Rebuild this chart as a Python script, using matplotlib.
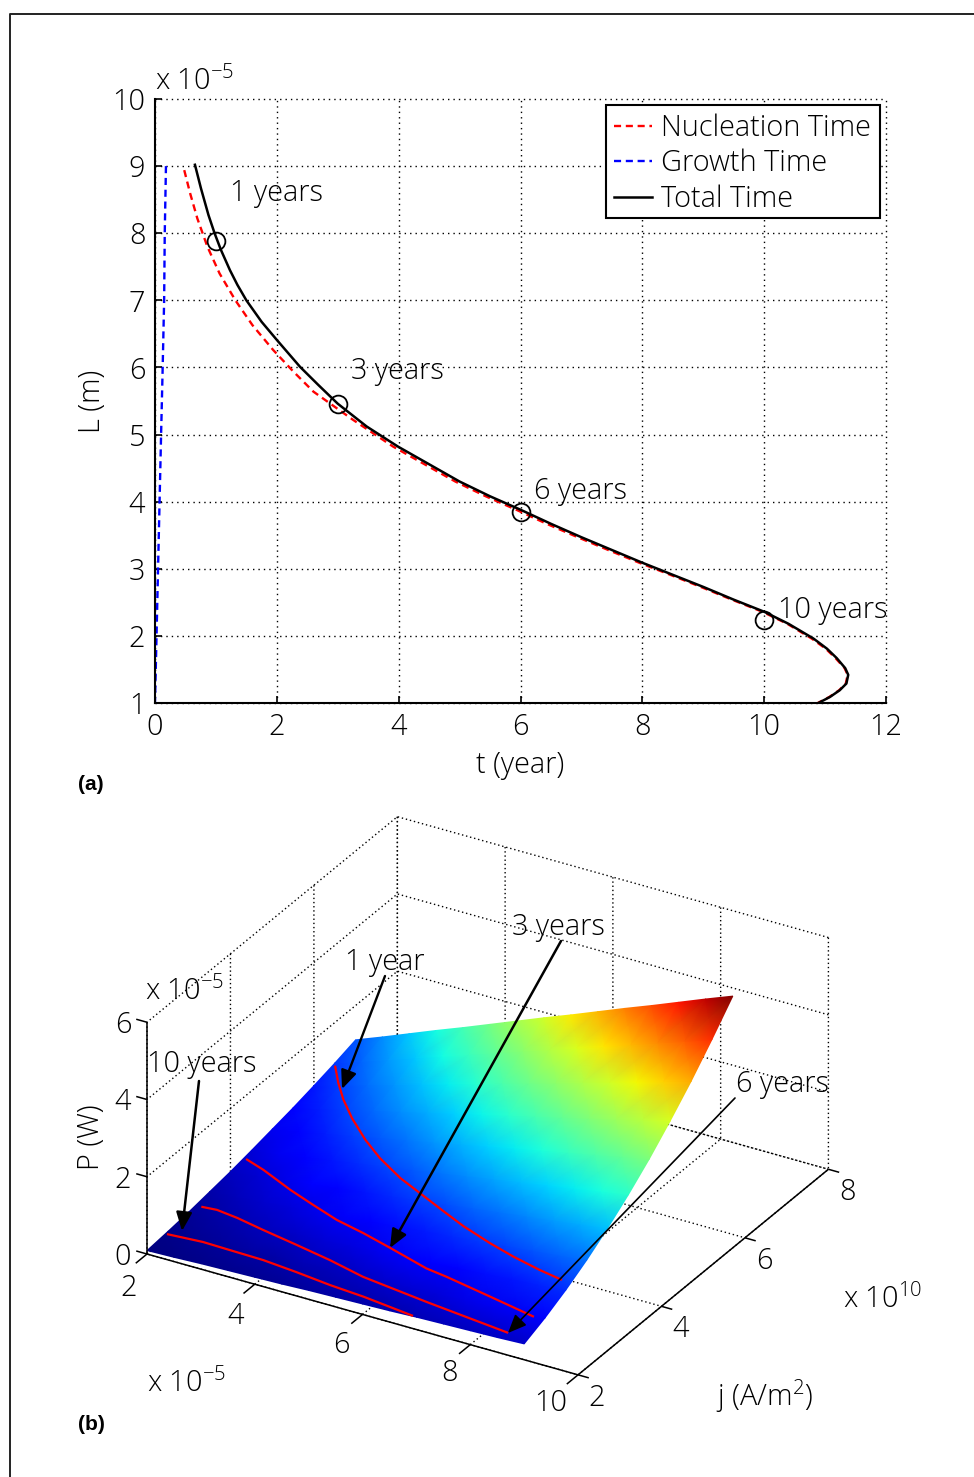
import numpy as np
import matplotlib
matplotlib.use('Agg')
import matplotlib.pyplot as plt
from matplotlib.lines import Line2D
from matplotlib.patches import Rectangle
from mpl_toolkits.mplot3d import proj3d

plt.rcParams['font.family'] = ['Open Sans', 'DejaVu Sans']
plt.rcParams['font.weight'] = 'light'
plt.rcParams['axes.labelweight'] = 'light'
plt.rcParams['mathtext.fontset'] = 'custom'
plt.rcParams['mathtext.rm'] = 'Open Sans:light'
plt.rcParams['mathtext.default'] = 'regular'

# ---------- panel (a) data: t in years, L in units of 1e-5 m ----------
total_L = [9.02, 8.67, 8.27, 8.0, 7.75, 7.45, 7.23, 7.0, 6.68, 6.41, 6.01, 5.74, 5.46, 5.12, 4.82, 4.30, 4.08, 3.88,
           3.67, 3.47, 3.28, 3.09, 2.91, 2.73, 2.54, 2.36, 2.18, 1.96, 1.81, 1.67, 1.52, 1.42, 1.29, 1.19, 1.09, 1.0]
total_t = [.656, .754, .878, .978, 1.083, 1.23, 1.353, 1.5, 1.75, 2.0, 2.38, 2.68, 3.0, 3.475, 3.99, 5.0, 5.5, 6.0,
           6.5, 7.0, 7.5, 8.0, 8.5, 9.0, 9.5, 10.0, 10.4, 10.81, 11.03, 11.19, 11.33, 11.38, 11.35, 11.24, 11.08, 10.89]
nucl_L = [8.94, 8.6, 8.22, 7.8, 7.4, 7.0, 6.63, 6.26, 5.94, 5.64, 5.22, 4.82, 4.30, 4.08, 3.88,
          3.67, 3.47, 3.28, 3.09, 2.91, 2.73, 2.54, 2.36, 2.18, 1.96, 1.81, 1.67, 1.52, 1.42, 1.29, 1.19, 1.09, 1.0]
nucl_t = [.48, .575, .695, .86, 1.06, 1.32, 1.6, 1.94, 2.27, 2.6, 3.25, 3.91, 4.93, 5.43, 5.93,
          6.43, 6.94, 7.44, 7.95, 8.46, 8.96, 9.47, 9.97, 10.38, 10.78, 11.01, 11.17, 11.32, 11.37, 11.34, 11.23, 11.07, 10.88]
growth_L = [9, 8, 7, 6, 5, 4, 3, 2, 1]
growth_t = [.18, .16, .15, .126, .1, .075, .05, .025, 0]
mark_t = [1, 3, 6, 10]
mark_L = [7.88, 5.46, 3.85, 2.24]
years_a = ['1 years', '3 years', '6 years', '10 years']
t_ticks = [0, 2, 4, 6, 8, 10, 12]
L_ticks = [1, 2, 3, 4, 5, 6, 7, 8, 9, 10]

# ---------- panel (b) data ----------
surf_L = [2, 2.5, 3, 3.5, 4, 4.5, 5, 5.5, 6, 6.5, 7, 7.5, 8, 8.5, 9]
surf_j = [2, 2.5, 3, 3.5, 4, 4.5, 5, 5.5, 6, 6.5, 7]
surf_P = [
    [.09, .14, .20, .28, .36, .46, .57, .68, .81, .95, 1.11],
    [.11, .18, .25, .35, .45, .57, .71, .85, 1.02, 1.19, 1.38],
    [.14, .21, .31, .42, .54, .69, .85, 1.03, 1.22, 1.43, 1.66],
    [.16, .25, .36, .48, .63, .80, .99, 1.20, 1.42, 1.67, 1.94],
    [.18, .28, .41, .55, .72, .92, 1.13, 1.37, 1.63, 1.91, 2.21],
    [.20, .32, .46, .62, .81, 1.03, 1.27, 1.54, 1.83, 2.15, 2.49],
    [.23, .35, .51, .69, .90, 1.14, 1.41, 1.71, 2.03, 2.39, 2.77],
    [.25, .39, .56, .76, .99, 1.26, 1.55, 1.88, 2.24, 2.63, 3.05],
    [.27, .42, .61, .83, 1.08, 1.37, 1.70, 2.05, 2.44, 2.86, 3.32],
    [.29, .46, .66, .90, 1.18, 1.49, 1.84, 2.22, 2.64, 3.10, 3.60],
    [.32, .49, .71, .97, 1.27, 1.60, 1.98, 2.39, 2.85, 3.34, 3.88],
    [.34, .53, .76, 1.04, 1.36, 1.72, 2.12, 2.56, 3.05, 3.58, 4.15],
    [.36, .57, .81, 1.11, 1.45, 1.83, 2.26, 2.73, 3.25, 3.82, 4.43],
    [.38, .60, .86, 1.18, 1.54, 1.95, 2.40, 2.91, 3.46, 4.06, 4.71],
    [.41, .64, .92, 1.25, 1.63, 2.06, 2.54, 3.08, 3.66, 4.30, 4.98],
]
c1_L = [2.09, 2.43, 2.78, 3.21, 3.76, 4.27, 4.89, 5.42, 6.0, 6.57, 7.23, 7.78, 8.37, 8.84]
c1_j = [6.39, 6.03, 5.70, 5.35, 4.96, 4.65, 4.34, 4.13, 3.90, 3.68, 3.47, 3.32, 3.19, 3.11]
c1_P = [1.02] * 14
c3_L = [2.05, 2.52, 3.25, 3.84, 4.43, 5.03, 5.66, 6.51, 6.94, 7.86, 8.81]
c3_j = [4.31, 4.12, 3.82, 3.61, 3.41, 3.27, 3.10, 2.87, 2.81, 2.65, 2.48]
c3_P = [.43, .50, .536, .56, .582, .60, .615, .62, .619, .615, .612]
c6_L = [2.11, 2.40, 2.84, 3.42, 4.16, 4.88, 5.63, 6.95, 8.61]
c6_j = [3.16, 3.16, 3.08, 2.95, 2.8, 2.66, 2.49, 2.31, 2.12]
c6_P = [.238, .27, .304, .335, .369, .385, .394, .419, .437]
c10_L = [2.03, 2.69, 3.22, 3.87, 4.55, 5.24, 5.91, 6.93]
c10_j = [2.44, 2.45, 2.41, 2.37, 2.29, 2.2, 2.14, 2.01]
c10_P = [.137, .182, .215, .246, .27, .287, .30, .316]
L3_ticks = [2, 4, 6, 8, 10]
j3_ticks = [2, 4, 6, 8]
P3_ticks = [0, 2, 4, 6]

W, H = 974, 1477
FS = 20.8
fig = plt.figure(figsize=(W / 100, H / 100), dpi=100)

# ---------- panel (a) ----------
ax = fig.add_axes([155 / W, 1 - 703 / H, 731 / W, 604 / H])
RED, BLUE = '#ff0000', '#0000ff'
ax.plot(nucl_t, nucl_L, color=RED, lw=1.7, ls=(0, (3, 2)), label='Nucleation Time')
ax.plot(growth_t, growth_L, color=BLUE, lw=1.7, ls=(0, (3, 2)), label='Growth Time')
ax.plot(total_t, total_L, color='k', lw=1.8, label='Total Time')
ax.plot(mark_t, mark_L, ls='none', marker='o', ms=12.8, mfc='none', mec='k', mew=1.3)
ax.set_xlim(0, 12)
ax.set_ylim(1, 10)
ax.set_xticks(t_ticks)
ax.set_yticks(L_ticks)
ax.grid(True, color='k', lw=1.0, ls=(0, (1, 2.9)))
for g in ax.get_xgridlines() + ax.get_ygridlines():
    g.set_clip_on(False)
ax.spines['top'].set_visible(False)
ax.spines['right'].set_visible(False)
ax.spines['left'].set_linewidth(1.5)
ax.spines['bottom'].set_linewidth(1.5)
ax.tick_params(direction='in', length=5, width=1.2, labelsize=FS)
ax.tick_params(axis='x', pad=7)
ax.tick_params(axis='y', pad=7)
ax.set_xlabel('t (year)', fontsize=FS, labelpad=6)
ax.set_ylabel('L (m)', fontsize=FS, labelpad=4)
for tx, ly, s in zip([1.23, 3.22, 6.22, 10.23], [8.6, 5.94, 4.15, 2.38], years_a):
    ax.text(tx, ly, s, fontsize=FS, ha='left', va='center')
ax.add_patch(Rectangle((606 / W, 1 - 218 / H), 274 / W, 113 / H, transform=fig.transFigure, fc='white',
                       ec='k', lw=1.5, zorder=4.5, clip_on=False))
leg = ax.legend(loc='upper right', bbox_to_anchor=(880 / W, 1 - 105 / H), bbox_transform=fig.transFigure,
                fontsize=FS, frameon=False, borderaxespad=0,
                handlelength=1.33, handletextpad=.33, labelspacing=.2, borderpad=.3)

# ---------- panel (b): orthographic 3D axes ----------
ax3 = fig.add_axes([.1, .1, .6, .6 * W / H], projection='3d', computed_zorder=False)
ax3.set_proj_type('ortho')
ax3.view_init(elev=28.67, azim=-59.7)
ax3.set_box_aspect((499, 496, 264))
ax3.set_xlim(2, 10)
ax3.set_ylim(2, 8)
ax3.set_zlim(0, 6)
ax3.set_xticks(L3_ticks)
ax3.set_yticks(j3_ticks)
ax3.set_zticks(P3_ticks)
ax3.patch.set_alpha(0)
for a in (ax3.xaxis, ax3.yaxis, ax3.zaxis):
    a.set_pane_color((1, 1, 1, 0))
    a.pane.set_edgecolor((1, 1, 1, 0))
    a.line.set_color((1, 1, 1, 0))
    a.set_ticklabels([])
    a._axinfo['grid'].update(color='k', linewidth=1.0, linestyle=(0, (1, 2)))
    a._axinfo['tick']['inward_factor'] = 0
    a._axinfo['tick']['outward_factor'] = 0
ax3.tick_params(color=(1, 1, 1, 0))


def disp(L, j, P):
    xs, ys, _ = proj3d.proj_transform(np.ravel(L), np.ravel(j), np.ravel(P), ax3.get_proj())
    return ax3.transData.transform(np.column_stack([xs, ys]))


# fit the 3D box onto the reference axis corners
A_t = np.array([147., H - 1254.])
B_t = np.array([578., H - 1375.])
ax3.apply_aspect()
d0 = disp([2, 10], [2, 2], [0, 0])
k = np.linalg.norm(B_t - A_t) / np.linalg.norm(d0[1] - d0[0])
w3 = .6 * k
ax3.set_position([.1, .1, w3, w3 * W / H])
ax3.apply_aspect()
d1 = disp([2], [2], [0])[0]
sh = A_t - d1
ax3.set_position([.1 + sh[0] / W, .1 + sh[1] / H, w3, w3 * W / H])
ax3.apply_aspect()

# overlay in figure pixels, holding everything drawn over the 3D grid
ov = fig.add_axes([0, 0, 1, 1], facecolor='none')
ov.set_xlim(0, W)
ov.set_ylim(H, 0)
ov.axis('off')


def pr(L, j, P):
    L, j, P = np.asarray(L, float), np.asarray(j, float), np.asarray(P, float)
    p = disp(L, j, P)
    return p[:, 0].reshape(L.shape), (H - p[:, 1]).reshape(L.shape)


def T(x, y, s, **kw):
    kw.setdefault('fontsize', FS)
    kw.setdefault('ha', 'left')
    kw.setdefault('va', 'center')
    ov.text(x, y + 3, s, **kw)


LL, JJ = np.meshgrid(surf_L, surf_j, indexing='ij')
PP = np.array(surf_P)
X, Y = pr(LL, JJ, PP)
ov.pcolormesh(X, Y, PP, shading='gouraud', cmap='jet', vmin=PP.min(), vmax=PP.max())

for cL, cj, cP in ((c1_L, c1_j, c1_P), (c3_L, c3_j, c3_P), (c6_L, c6_j, c6_P), (c10_L, c10_j, c10_P)):
    x_, y_ = pr(cL, cj, cP)
    ov.plot(x_, y_, color=RED, lw=1.6, solid_capstyle='butt')

AXLW = 1.1
def seg(a, b):
    xa, ya = pr(*[[v] for v in a])
    xb, yb = pr(*[[v] for v in b])
    ov.plot([xa[0], xb[0]], [ya[0], yb[0]], color='k', lw=AXLW, solid_capstyle='butt')

seg((2, 2, 0), (10, 2, 0))
seg((10, 2, 0), (10, 8, 0))
seg((2, 2, 0), (2, 2, 6))
L_off_x = [-18, -19, -21, -21, -27]
L_off_y = [31, 29, 28, 26, 25]
for v, ox, oy in zip(L3_ticks, L_off_x, L_off_y):
    seg((v, 2, 0), (v, 1.73, 0))
    x_, y_ = pr([v], [2], [0])
    T(x_[0] + ox, y_[0] + oy, str(v), ha='center')
for v in j3_ticks:
    seg((10, v, 0), (10.2, v, 0))
    x_, y_ = pr([10], [v], [0])
    T(x_[0] + 19, y_[0] + 20, str(v), ha='center')
for v in P3_ticks:
    seg((2, 2, v), (1.8, 2, v))
    x_, y_ = pr([2], [2], [v])
    T(x_[0] - 24, y_[0], str(v), ha='center')

ann = [('1 year', (345, 959), (385, 976), (342, 1089), 1.7),
       ('3 years', (512, 924), (561, 941), (390, 1248), 1.8),
       ('6 years', (736, 1081), (735, 1098), (508, 1333), 1.2),
       ('10 years', (147, 1061), (199, 1081), (182, 1231), 1.8)]
for s, tp, tail, tip, alw in ann:
    T(tp[0], tp[1], s)
    ov.annotate('', xy=tip, xytext=tail, xycoords='data', textcoords='data',
                arrowprops=dict(arrowstyle='-|>,head_length=.75,head_width=.32', color='k', lw=alw,
                                mutation_scale=15, shrinkA=0, shrinkB=0))

T(145, 988, 'x 10$^{-5}$')
T(147, 1380, 'x 10$^{-5}$')
T(843, 1296, 'x 10$^{10}$')
T(716, 1393, 'j (A/m$^{2}$)')
ov.text(91, 1137, 'P (W)', fontsize=FS, ha='center', va='center', rotation=90)
T(155, 78, 'x 10$^{-5}$')
ov.text(78, 784, '(a)', fontsize=15, family='Liberation Sans', weight='bold', ha='left', va='center')
ov.text(78, 1424, '(b)', fontsize=15, family='Liberation Sans', weight='bold', ha='left', va='center')

# page frame
fig.add_artist(Line2D([10 / W, 10 / W, 1], [0, 1 - 14 / H, 1 - 14 / H], color='#222222', lw=1.4))

fig.savefig('out.png', dpi=100)
